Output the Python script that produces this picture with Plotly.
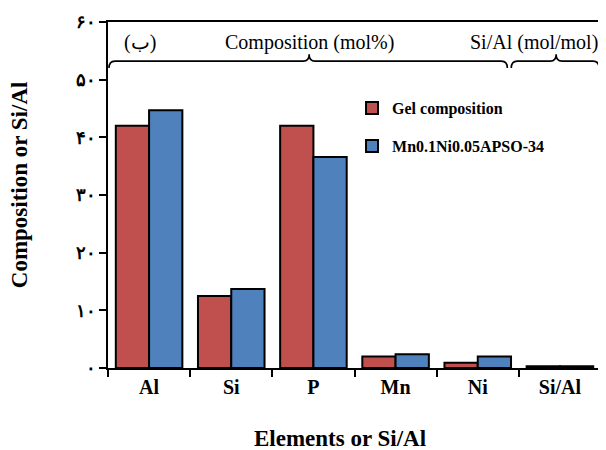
import plotly.graph_objects as go

categories = ["Al", "Si", "P", "Mn", "Ni", "Si/Al"]
gel_composition = [42.0, 12.5, 42.0, 2.0, 0.9, 0.3]
mn_ni_apso = [44.7, 13.7, 36.6, 2.4, 2.0, 0.3]
y_tickvals = [0, 10, 20, 30, 40, 50, 60]
y_ticktext = ["۰", "۱۰", "۲۰", "۳۰", "۴۰", "۵۰", "۶۰"]

RED = "#C0504D"
BLUE = "#4F81BD"
SERIF = "Liberation Serif, serif"

fig = go.Figure()
fig.add_trace(go.Bar(x=categories, y=gel_composition, name="Gel composition",
                     marker=dict(color=RED, line=dict(color="black", width=2)),
                     legendgroup="a"))
fig.add_trace(go.Bar(x=categories, y=mn_ni_apso, name="Mn0.1Ni0.05APSO-34",
                     marker=dict(color=BLUE, line=dict(color="black", width=2)),
                     legendgroup="b"))


def brace(x0, x1, xm, y, h, dx):
    return (f"M {x0},{y-h} Q {x0},{y} {x0+dx},{y} L {xm-dx},{y} "
            f"Q {xm},{y} {xm},{y+h} Q {xm},{y} {xm+dx},{y} "
            f"L {x1-dx},{y} Q {x1},{y} {x1},{y-h}")


shapes = [
    dict(type="path", xref="paper", yref="paper",
         path=brace(0.002, 0.81, 0.408, 0.887, 0.02, 0.012),
         line=dict(color="black", width=1.6)),
    dict(type="path", xref="paper", yref="paper",
         path=brace(0.818, 0.996, 0.909, 0.887, 0.02, 0.012),
         line=dict(color="black", width=1.6)),
]


def note(text, x, y, size, bold=False, angle=0):
    f = dict(family=SERIF, size=size, color="black")
    if bold:
        f["weight"] = "bold"
    return dict(text=text, x=x, y=y, xref="paper", yref="paper", showarrow=False,
                xanchor="center", yanchor="middle", textangle=angle, font=f)


annotations = [
    note("(ب)", 0.065, 0.942, 20),
    note("Composition (mol%)", 0.408, 0.942, 20),
    note("Si/Al (mol/mol)", 0.864, 0.942, 20),
    note("Elements or Si/Al", 0.47, -0.203, 23, bold=True),
    note("Composition or Si/Al", -0.178, 0.529, 23, bold=True, angle=-90),
]

# page body has an 8px default margin, so the figure is drawn 8px right and down
fig.update_layout(
    width=598, height=442,
    margin=dict(l=100, r=5, t=14, b=82),
    paper_bgcolor="white", plot_bgcolor="white",
    barmode="group", bargap=0.19, bargroupgap=0,
    font=dict(family=SERIF, color="black"),
    showlegend=True,
    legend=dict(x=0.495, y=0.80, xanchor="left", yanchor="top",
                font=dict(family=SERIF, size=16, color="black", weight="bold"),
                traceorder="grouped", tracegroupgap=14,
                bgcolor="rgba(0,0,0,0)"),
    shapes=shapes,
    annotations=annotations,
    xaxis=dict(
        automargin=False,
        tickson="boundaries", ticks="outside", ticklen=7, tickwidth=1.5, tickcolor="black",
        showline=True, linecolor="black", linewidth=1.5, mirror=True,
        showgrid=False,
        tickfont=dict(family=SERIF, size=20, color="black", weight="bold"),
    ),
    yaxis=dict(
        automargin=False,
        range=[0, 60], tickvals=y_tickvals, ticktext=y_ticktext,
        ticks="outside", ticklen=7, tickwidth=1.5, tickcolor="black",
        showline=True, linecolor="black", linewidth=1.5, mirror=True,
        showgrid=False, zeroline=False,
        tickfont=dict(family=SERIF, size=18, color="black", weight="bold"),
    ),
)

fig.write_html("out.html")
